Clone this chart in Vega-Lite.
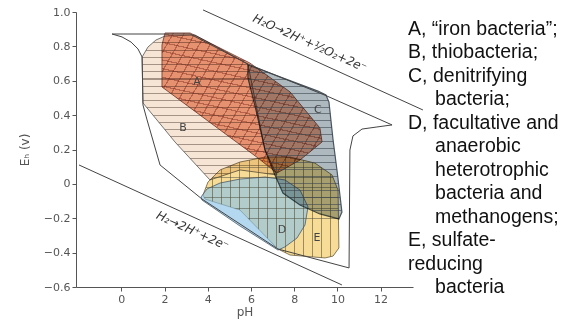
{
 "$schema": "https://vega.github.io/schema/vega-lite/v6.json",
 "width": 337, "height": 275,
 "autosize": {"type": "none"},
 "padding": {"left": 76, "top": 12, "right": 161, "bottom": 35},
 "background": "white",
 "config": {"view": {"stroke": null}, "font": "DejaVu Sans"},
 "datasets": {
  "outer": [
   {"i":0,"pH":-0.43,"Eh":0.872},{"i":1,"pH":3.18,"Eh":0.872},{"i":2,"pH":5.86,"Eh":0.697},{"i":3,"pH":9.52,"Eh":0.511},
   {"i":4,"pH":12.53,"Eh":0.343},{"i":5,"pH":11.83,"Eh":0.331},{"i":6,"pH":11.14,"Eh":0.319},{"i":7,"pH":10.72,"Eh":0.279},
   {"i":8,"pH":10.58,"Eh":0.197},{"i":9,"pH":10.54,"Eh":-0.489},{"i":10,"pH":7.25,"Eh":-0.379},{"i":11,"pH":3.73,"Eh":-0.088},
   {"i":12,"pH":1.79,"Eh":0.110},{"i":13,"pH":1.19,"Eh":0.372},{"i":14,"pH":1.00,"Eh":0.459},{"i":15,"pH":0.96,"Eh":0.738},
   {"i":16,"pH":0.77,"Eh":0.785},{"i":17,"pH":0.45,"Eh":0.825},{"i":18,"pH":0.03,"Eh":0.855}
  ],
  "B": [
   {"i":0,"pH":0.96,"Eh":0.738},{"i":1,"pH":1.23,"Eh":0.796},{"i":2,"pH":1.60,"Eh":0.837},{"i":3,"pH":2.02,"Eh":0.860},
   {"i":4,"pH":3.41,"Eh":0.866},{"i":5,"pH":5.86,"Eh":0.697},{"i":6,"pH":6.65,"Eh":0.197},{"i":7,"pH":7.20,"Eh":0.052},
   {"i":8,"pH":5.49,"Eh":0.081},{"i":9,"pH":4.10,"Eh":0.023},{"i":10,"pH":2.48,"Eh":0.244},{"i":11,"pH":1.00,"Eh":0.471}
  ],
  "A": [
   {"i":0,"pH":2.02,"Eh":0.878},{"i":1,"pH":3.18,"Eh":0.878},{"i":2,"pH":5.95,"Eh":0.703},{"i":3,"pH":7.81,"Eh":0.535},
   {"i":4,"pH":9.19,"Eh":0.325},{"i":5,"pH":9.29,"Eh":0.244},{"i":6,"pH":8.27,"Eh":0.139},{"i":7,"pH":7.20,"Eh":0.063},
   {"i":8,"pH":6.32,"Eh":0.151},{"i":9,"pH":1.88,"Eh":0.564},{"i":10,"pH":1.88,"Eh":0.808}
  ],
  "C": [
   {"i":0,"pH":5.86,"Eh":0.692},{"i":1,"pH":9.10,"Eh":0.540},{"i":2,"pH":9.47,"Eh":0.517},{"i":3,"pH":9.61,"Eh":0.476},
   {"i":4,"pH":9.80,"Eh":0.255},{"i":5,"pH":9.98,"Eh":0.081},{"i":6,"pH":10.21,"Eh":-0.164},{"i":7,"pH":10.07,"Eh":-0.204},
   {"i":8,"pH":9.19,"Eh":-0.175},{"i":9,"pH":8.27,"Eh":-0.123},{"i":10,"pH":7.48,"Eh":-0.053},{"i":11,"pH":7.11,"Eh":0.052},
   {"i":12,"pH":6.65,"Eh":0.197},{"i":13,"pH":6.23,"Eh":0.430},{"i":14,"pH":5.86,"Eh":0.616}
  ],
  "E": [
   {"i":0,"pH":3.78,"Eh":-0.065},{"i":1,"pH":4.01,"Eh":0.011},{"i":2,"pH":4.57,"Eh":0.081},{"i":3,"pH":5.49,"Eh":0.127},
   {"i":4,"pH":6.65,"Eh":0.156},{"i":5,"pH":7.81,"Eh":0.156},{"i":6,"pH":8.96,"Eh":0.121},{"i":7,"pH":9.75,"Eh":0.052},
   {"i":8,"pH":10.03,"Eh":-0.036},{"i":9,"pH":10.07,"Eh":-0.373},{"i":10,"pH":9.80,"Eh":-0.420},{"i":11,"pH":9.43,"Eh":-0.431},
   {"i":12,"pH":7.81,"Eh":-0.414},{"i":13,"pH":7.25,"Eh":-0.379},{"i":14,"pH":5.49,"Eh":-0.152},{"i":15,"pH":3.87,"Eh":-0.088}
  ],
  "D": [
   {"i":0,"pH":3.69,"Eh":-0.076},{"i":1,"pH":3.96,"Eh":-0.030},{"i":2,"pH":4.57,"Eh":0.005},{"i":3,"pH":5.49,"Eh":0.028},
   {"i":4,"pH":6.65,"Eh":0.040},{"i":5,"pH":7.57,"Eh":0.023},{"i":6,"pH":8.27,"Eh":-0.036},{"i":7,"pH":8.64,"Eh":-0.134},
   {"i":8,"pH":8.50,"Eh":-0.239},{"i":9,"pH":8.13,"Eh":-0.315},{"i":10,"pH":7.57,"Eh":-0.367},{"i":11,"pH":7.25,"Eh":-0.385},
   {"i":12,"pH":5.49,"Eh":-0.245},{"i":13,"pH":3.73,"Eh":-0.094}
  ],
  "water": [{"i":0,"pH":3.78,"Eh":1.012},{"i":1,"pH":13.96,"Eh":0.430}],
  "hydrogen": [{"i":0,"pH":-1.96,"Eh":0.110},{"i":1,"pH":10.21,"Eh":-0.588}],
  "letters": [
   {"pH":3.50,"Eh":0.593,"t":"A"},{"pH":2.85,"Eh":0.325,"t":"B"},{"pH":9.10,"Eh":0.430,"t":"C"},
   {"pH":7.44,"Eh":-0.268,"t":"D"},{"pH":9.06,"Eh":-0.315,"t":"E"}
  ],
  "lineLabels": [
   {"pH":8.73,"Eh":0.820,"t":"H₂O→2H⁺+½O₂+2e⁻"},
   {"pH":3.30,"Eh":-0.272,"t":"H₂→2H⁺+2e⁻"}
  ],
  "notesMain": [
   {"pH":13.27,"Eh":0.8662,"t":"A, “iron bacteria”;"},
   {"pH":13.27,"Eh":0.7297,"t":"B, thiobacteria;"},
   {"pH":13.27,"Eh":0.5933,"t":"C, denitrifying"},
   {"pH":13.27,"Eh":0.3204,"t":"D, facultative and"},
   {"pH":13.27,"Eh":-0.3617,"t":"E, sulfate-"},
   {"pH":13.27,"Eh":-0.4982,"t":"reducing"}
  ],
  "notesIndent": [
   {"pH":14.52,"Eh":0.4569,"t":"bacteria;"},
   {"pH":14.52,"Eh":0.1840,"t":"anaerobic"},
   {"pH":14.52,"Eh":0.0476,"t":"heterotrophic"},
   {"pH":14.52,"Eh":-0.0889,"t":"bacteria and"},
   {"pH":14.52,"Eh":-0.2253,"t":"methanogens;"},
   {"pH":14.52,"Eh":-0.6347,"t":"bacteria"}
  ]
 },
 "encoding": {
  "x": {"field": "pH", "type": "quantitative",
   "scale": {"domain": [-2.1, 13.5], "nice": false, "zero": false},
   "axis": {"values": [0,2,4,6,8,10,12], "title": "pH", "grid": false, "tickSize": 4, "labelPadding": 2,
    "labelFont": "DejaVu Sans", "labelFontSize": 11, "labelColor": "#555", "domainColor": "#555", "tickColor": "#555",
    "titleFont": "DejaVu Sans", "titleFontSize": 12, "titleFontWeight": "normal", "titleColor": "#555", "titlePadding": 2}},
  "y": {"field": "Eh", "type": "quantitative",
   "scale": {"domain": [-0.6, 1.0], "nice": false, "zero": false},
   "axis": {"values": [-0.6,-0.4,-0.2,0,0.2,0.4,0.6,0.8,1.0], "title": "Eₕ (v)", "grid": false, "tickSize": 4, "labelPadding": 2,
    "labelExpr": "datum.value == 0 ? '0' : format(datum.value, '.1f')",
    "labelFont": "DejaVu Sans", "labelFontSize": 11, "labelColor": "#555", "domainColor": "#555", "tickColor": "#555",
    "titleFont": "DejaVu Sans", "titleFontSize": 12, "titleFontWeight": "normal", "titleColor": "#555", "titlePadding": 12}}
 },
 "layer": [
  {"data": {"name": "B"}, "mark": {"type": "line", "interpolate": "linear-closed", "fill": "#f6e4d4", "blend": "multiply", "stroke": "#555", "strokeWidth": 0.8}, "encoding": {"order": {"field": "i"}}},
  {"data": {"name": "B"}, "mark": {"type": "line", "interpolate": "linear-closed", "strokeOpacity": 0, "fill": {"gradient": "linear", "x1": 0, "y1": 0, "x2": 0, "y2": 1, "stops": [
   {"offset":0,"color":"transparent"},
   {"offset":0.05,"color":"transparent"},{"offset":0.05,"color":"#6e5e5299"},{"offset":0.057,"color":"#6e5e5299"},{"offset":0.057,"color":"transparent"},
   {"offset":0.1,"color":"transparent"},{"offset":0.1,"color":"#6e5e5299"},{"offset":0.107,"color":"#6e5e5299"},{"offset":0.107,"color":"transparent"},
   {"offset":0.15,"color":"transparent"},{"offset":0.15,"color":"#6e5e5299"},{"offset":0.157,"color":"#6e5e5299"},{"offset":0.157,"color":"transparent"},
   {"offset":0.2,"color":"transparent"},{"offset":0.2,"color":"#6e5e5299"},{"offset":0.207,"color":"#6e5e5299"},{"offset":0.207,"color":"transparent"},
   {"offset":0.25,"color":"transparent"},{"offset":0.25,"color":"#6e5e5299"},{"offset":0.257,"color":"#6e5e5299"},{"offset":0.257,"color":"transparent"},
   {"offset":0.3,"color":"transparent"},{"offset":0.3,"color":"#6e5e5299"},{"offset":0.307,"color":"#6e5e5299"},{"offset":0.307,"color":"transparent"},
   {"offset":0.35,"color":"transparent"},{"offset":0.35,"color":"#6e5e5299"},{"offset":0.357,"color":"#6e5e5299"},{"offset":0.357,"color":"transparent"},
   {"offset":0.4,"color":"transparent"},{"offset":0.4,"color":"#6e5e5299"},{"offset":0.407,"color":"#6e5e5299"},{"offset":0.407,"color":"transparent"},
   {"offset":0.45,"color":"transparent"},{"offset":0.45,"color":"#6e5e5299"},{"offset":0.457,"color":"#6e5e5299"},{"offset":0.457,"color":"transparent"},
   {"offset":0.5,"color":"transparent"},{"offset":0.5,"color":"#6e5e5299"},{"offset":0.507,"color":"#6e5e5299"},{"offset":0.507,"color":"transparent"},
   {"offset":0.55,"color":"transparent"},{"offset":0.55,"color":"#6e5e5299"},{"offset":0.557,"color":"#6e5e5299"},{"offset":0.557,"color":"transparent"},
   {"offset":0.6,"color":"transparent"},{"offset":0.6,"color":"#6e5e5299"},{"offset":0.607,"color":"#6e5e5299"},{"offset":0.607,"color":"transparent"},
   {"offset":0.65,"color":"transparent"},{"offset":0.65,"color":"#6e5e5299"},{"offset":0.657,"color":"#6e5e5299"},{"offset":0.657,"color":"transparent"},
   {"offset":0.7,"color":"transparent"},{"offset":0.7,"color":"#6e5e5299"},{"offset":0.707,"color":"#6e5e5299"},{"offset":0.707,"color":"transparent"},
   {"offset":0.75,"color":"transparent"},{"offset":0.75,"color":"#6e5e5299"},{"offset":0.757,"color":"#6e5e5299"},{"offset":0.757,"color":"transparent"},
   {"offset":0.8,"color":"transparent"},{"offset":0.8,"color":"#6e5e5299"},{"offset":0.807,"color":"#6e5e5299"},{"offset":0.807,"color":"transparent"},
   {"offset":0.85,"color":"transparent"},{"offset":0.85,"color":"#6e5e5299"},{"offset":0.857,"color":"#6e5e5299"},{"offset":0.857,"color":"transparent"},
   {"offset":0.9,"color":"transparent"},{"offset":0.9,"color":"#6e5e5299"},{"offset":0.907,"color":"#6e5e5299"},{"offset":0.907,"color":"transparent"},
   {"offset":0.95,"color":"transparent"},{"offset":0.95,"color":"#6e5e5299"},{"offset":0.957,"color":"#6e5e5299"},{"offset":0.957,"color":"transparent"},
   {"offset":1,"color":"transparent"}]}}, "encoding": {"order": {"field": "i"}}},
  {"data": {"name": "A"}, "mark": {"type": "line", "interpolate": "linear-closed", "fill": "#efa286", "blend": "multiply", "stroke": "#6b3a2e", "strokeWidth": 0.8}, "encoding": {"order": {"field": "i"}}},
  {"data": {"name": "A"}, "mark": {"type": "line", "interpolate": "linear-closed", "strokeOpacity": 0, "fill": {"gradient": "linear", "x1": 0, "y1": 0, "x2": 1.2, "y2": 0.6, "stops": [
   {"offset":0,"color":"transparent"},
   {"offset":0.045,"color":"transparent"},{"offset":0.045,"color":"#7a281e70"},{"offset":0.051,"color":"#7a281e70"},{"offset":0.051,"color":"transparent"},
   {"offset":0.09,"color":"transparent"},{"offset":0.09,"color":"#7a281e70"},{"offset":0.096,"color":"#7a281e70"},{"offset":0.096,"color":"transparent"},
   {"offset":0.135,"color":"transparent"},{"offset":0.135,"color":"#7a281e70"},{"offset":0.141,"color":"#7a281e70"},{"offset":0.141,"color":"transparent"},
   {"offset":0.18,"color":"transparent"},{"offset":0.18,"color":"#7a281e70"},{"offset":0.186,"color":"#7a281e70"},{"offset":0.186,"color":"transparent"},
   {"offset":0.225,"color":"transparent"},{"offset":0.225,"color":"#7a281e70"},{"offset":0.231,"color":"#7a281e70"},{"offset":0.231,"color":"transparent"},
   {"offset":0.27,"color":"transparent"},{"offset":0.27,"color":"#7a281e70"},{"offset":0.276,"color":"#7a281e70"},{"offset":0.276,"color":"transparent"},
   {"offset":0.315,"color":"transparent"},{"offset":0.315,"color":"#7a281e70"},{"offset":0.321,"color":"#7a281e70"},{"offset":0.321,"color":"transparent"},
   {"offset":0.36,"color":"transparent"},{"offset":0.36,"color":"#7a281e70"},{"offset":0.366,"color":"#7a281e70"},{"offset":0.366,"color":"transparent"},
   {"offset":0.405,"color":"transparent"},{"offset":0.405,"color":"#7a281e70"},{"offset":0.411,"color":"#7a281e70"},{"offset":0.411,"color":"transparent"},
   {"offset":0.45,"color":"transparent"},{"offset":0.45,"color":"#7a281e70"},{"offset":0.456,"color":"#7a281e70"},{"offset":0.456,"color":"transparent"},
   {"offset":0.495,"color":"transparent"},{"offset":0.495,"color":"#7a281e70"},{"offset":0.501,"color":"#7a281e70"},{"offset":0.501,"color":"transparent"},
   {"offset":0.54,"color":"transparent"},{"offset":0.54,"color":"#7a281e70"},{"offset":0.546,"color":"#7a281e70"},{"offset":0.546,"color":"transparent"},
   {"offset":0.585,"color":"transparent"},{"offset":0.585,"color":"#7a281e70"},{"offset":0.591,"color":"#7a281e70"},{"offset":0.591,"color":"transparent"},
   {"offset":0.63,"color":"transparent"},{"offset":0.63,"color":"#7a281e70"},{"offset":0.636,"color":"#7a281e70"},{"offset":0.636,"color":"transparent"},
   {"offset":0.675,"color":"transparent"},{"offset":0.675,"color":"#7a281e70"},{"offset":0.681,"color":"#7a281e70"},{"offset":0.681,"color":"transparent"},
   {"offset":0.72,"color":"transparent"},{"offset":0.72,"color":"#7a281e70"},{"offset":0.726,"color":"#7a281e70"},{"offset":0.726,"color":"transparent"},
   {"offset":0.765,"color":"transparent"},{"offset":0.765,"color":"#7a281e70"},{"offset":0.771,"color":"#7a281e70"},{"offset":0.771,"color":"transparent"},
   {"offset":0.81,"color":"transparent"},{"offset":0.81,"color":"#7a281e70"},{"offset":0.816,"color":"#7a281e70"},{"offset":0.816,"color":"transparent"},
   {"offset":0.855,"color":"transparent"},{"offset":0.855,"color":"#7a281e70"},{"offset":0.861,"color":"#7a281e70"},{"offset":0.861,"color":"transparent"},
   {"offset":0.9,"color":"transparent"},{"offset":0.9,"color":"#7a281e70"},{"offset":0.906,"color":"#7a281e70"},{"offset":0.906,"color":"transparent"},
   {"offset":0.945,"color":"transparent"},{"offset":0.945,"color":"#7a281e70"},{"offset":0.951,"color":"#7a281e70"},{"offset":0.951,"color":"transparent"},
   {"offset":1,"color":"transparent"}]}}, "encoding": {"order": {"field": "i"}}},
  {"data": {"name": "A"}, "mark": {"type": "line", "interpolate": "linear-closed", "strokeOpacity": 0, "fill": {"gradient": "linear", "x1": 1, "y1": 0, "x2": 0.706, "y2": 1.176, "stops": [
   {"offset":0,"color":"transparent"},
   {"offset":0.05,"color":"transparent"},{"offset":0.05,"color":"#7a281e70"},{"offset":0.057,"color":"#7a281e70"},{"offset":0.057,"color":"transparent"},
   {"offset":0.1,"color":"transparent"},{"offset":0.1,"color":"#7a281e70"},{"offset":0.107,"color":"#7a281e70"},{"offset":0.107,"color":"transparent"},
   {"offset":0.15,"color":"transparent"},{"offset":0.15,"color":"#7a281e70"},{"offset":0.157,"color":"#7a281e70"},{"offset":0.157,"color":"transparent"},
   {"offset":0.2,"color":"transparent"},{"offset":0.2,"color":"#7a281e70"},{"offset":0.207,"color":"#7a281e70"},{"offset":0.207,"color":"transparent"},
   {"offset":0.25,"color":"transparent"},{"offset":0.25,"color":"#7a281e70"},{"offset":0.257,"color":"#7a281e70"},{"offset":0.257,"color":"transparent"},
   {"offset":0.3,"color":"transparent"},{"offset":0.3,"color":"#7a281e70"},{"offset":0.307,"color":"#7a281e70"},{"offset":0.307,"color":"transparent"},
   {"offset":0.35,"color":"transparent"},{"offset":0.35,"color":"#7a281e70"},{"offset":0.357,"color":"#7a281e70"},{"offset":0.357,"color":"transparent"},
   {"offset":0.4,"color":"transparent"},{"offset":0.4,"color":"#7a281e70"},{"offset":0.407,"color":"#7a281e70"},{"offset":0.407,"color":"transparent"},
   {"offset":0.45,"color":"transparent"},{"offset":0.45,"color":"#7a281e70"},{"offset":0.457,"color":"#7a281e70"},{"offset":0.457,"color":"transparent"},
   {"offset":0.5,"color":"transparent"},{"offset":0.5,"color":"#7a281e70"},{"offset":0.507,"color":"#7a281e70"},{"offset":0.507,"color":"transparent"},
   {"offset":0.55,"color":"transparent"},{"offset":0.55,"color":"#7a281e70"},{"offset":0.557,"color":"#7a281e70"},{"offset":0.557,"color":"transparent"},
   {"offset":0.6,"color":"transparent"},{"offset":0.6,"color":"#7a281e70"},{"offset":0.607,"color":"#7a281e70"},{"offset":0.607,"color":"transparent"},
   {"offset":0.65,"color":"transparent"},{"offset":0.65,"color":"#7a281e70"},{"offset":0.657,"color":"#7a281e70"},{"offset":0.657,"color":"transparent"},
   {"offset":0.7,"color":"transparent"},{"offset":0.7,"color":"#7a281e70"},{"offset":0.707,"color":"#7a281e70"},{"offset":0.707,"color":"transparent"},
   {"offset":0.75,"color":"transparent"},{"offset":0.75,"color":"#7a281e70"},{"offset":0.757,"color":"#7a281e70"},{"offset":0.757,"color":"transparent"},
   {"offset":0.8,"color":"transparent"},{"offset":0.8,"color":"#7a281e70"},{"offset":0.807,"color":"#7a281e70"},{"offset":0.807,"color":"transparent"},
   {"offset":0.85,"color":"transparent"},{"offset":0.85,"color":"#7a281e70"},{"offset":0.857,"color":"#7a281e70"},{"offset":0.857,"color":"transparent"},
   {"offset":0.9,"color":"transparent"},{"offset":0.9,"color":"#7a281e70"},{"offset":0.907,"color":"#7a281e70"},{"offset":0.907,"color":"transparent"},
   {"offset":0.95,"color":"transparent"},{"offset":0.95,"color":"#7a281e70"},{"offset":0.957,"color":"#7a281e70"},{"offset":0.957,"color":"transparent"},
   {"offset":1,"color":"transparent"}]}}, "encoding": {"order": {"field": "i"}}},
  {"data": {"name": "E"}, "mark": {"type": "line", "interpolate": "linear-closed", "fill": "#f6dc96", "blend": "multiply", "stroke": "#6a5a3a", "strokeWidth": 0.8}, "encoding": {"order": {"field": "i"}}},
  {"data": {"name": "D"}, "mark": {"type": "line", "interpolate": "linear-closed", "fill": "#8cc3e6", "fillOpacity": 0.65, "stroke": "#4a5a6a", "strokeWidth": 0.8}, "encoding": {"order": {"field": "i"}}},
  {"data": {"name": "E"}, "mark": {"type": "line", "interpolate": "linear-closed", "strokeOpacity": 0, "fill": {"gradient": "linear", "x1": 0, "y1": 0, "x2": 1, "y2": 0, "stops": [
   {"offset":0,"color":"transparent"},
   {"offset":0.067,"color":"transparent"},{"offset":0.067,"color":"#5a4a2a90"},{"offset":0.0745,"color":"#5a4a2a90"},{"offset":0.0745,"color":"transparent"},
   {"offset":0.134,"color":"transparent"},{"offset":0.134,"color":"#5a4a2a90"},{"offset":0.1415,"color":"#5a4a2a90"},{"offset":0.1415,"color":"transparent"},
   {"offset":0.201,"color":"transparent"},{"offset":0.201,"color":"#5a4a2a90"},{"offset":0.2085,"color":"#5a4a2a90"},{"offset":0.2085,"color":"transparent"},
   {"offset":0.268,"color":"transparent"},{"offset":0.268,"color":"#5a4a2a90"},{"offset":0.2755,"color":"#5a4a2a90"},{"offset":0.2755,"color":"transparent"},
   {"offset":0.335,"color":"transparent"},{"offset":0.335,"color":"#5a4a2a90"},{"offset":0.3425,"color":"#5a4a2a90"},{"offset":0.3425,"color":"transparent"},
   {"offset":0.402,"color":"transparent"},{"offset":0.402,"color":"#5a4a2a90"},{"offset":0.4095,"color":"#5a4a2a90"},{"offset":0.4095,"color":"transparent"},
   {"offset":0.469,"color":"transparent"},{"offset":0.469,"color":"#5a4a2a90"},{"offset":0.4765,"color":"#5a4a2a90"},{"offset":0.4765,"color":"transparent"},
   {"offset":0.536,"color":"transparent"},{"offset":0.536,"color":"#5a4a2a90"},{"offset":0.5435,"color":"#5a4a2a90"},{"offset":0.5435,"color":"transparent"},
   {"offset":0.603,"color":"transparent"},{"offset":0.603,"color":"#5a4a2a90"},{"offset":0.6105,"color":"#5a4a2a90"},{"offset":0.6105,"color":"transparent"},
   {"offset":0.67,"color":"transparent"},{"offset":0.67,"color":"#5a4a2a90"},{"offset":0.6775,"color":"#5a4a2a90"},{"offset":0.6775,"color":"transparent"},
   {"offset":0.737,"color":"transparent"},{"offset":0.737,"color":"#5a4a2a90"},{"offset":0.7445,"color":"#5a4a2a90"},{"offset":0.7445,"color":"transparent"},
   {"offset":0.804,"color":"transparent"},{"offset":0.804,"color":"#5a4a2a90"},{"offset":0.8115,"color":"#5a4a2a90"},{"offset":0.8115,"color":"transparent"},
   {"offset":0.871,"color":"transparent"},{"offset":0.871,"color":"#5a4a2a90"},{"offset":0.8785,"color":"#5a4a2a90"},{"offset":0.8785,"color":"transparent"},
   {"offset":0.938,"color":"transparent"},{"offset":0.938,"color":"#5a4a2a90"},{"offset":0.9455,"color":"#5a4a2a90"},{"offset":0.9455,"color":"transparent"},
   {"offset":1,"color":"transparent"}]}}, "encoding": {"order": {"field": "i"}}},
  {"data": {"name": "E"}, "mark": {"type": "line", "interpolate": "linear-closed", "strokeOpacity": 0, "fill": {"gradient": "linear", "x1": 0, "y1": 0, "x2": 0, "y2": 1, "stops": [
   {"offset":0,"color":"transparent"},
   {"offset":0.1,"color":"transparent"},{"offset":0.1,"color":"#4a4a3a80"},{"offset":0.11,"color":"#4a4a3a80"},{"offset":0.11,"color":"transparent"},
   {"offset":0.2,"color":"transparent"},{"offset":0.2,"color":"#4a4a3a80"},{"offset":0.21,"color":"#4a4a3a80"},{"offset":0.21,"color":"transparent"},
   {"offset":0.3,"color":"transparent"},{"offset":0.3,"color":"#4a4a3a80"},{"offset":0.31,"color":"#4a4a3a80"},{"offset":0.31,"color":"transparent"},
   {"offset":0.4,"color":"transparent"},{"offset":0.4,"color":"#4a4a3a80"},{"offset":0.41,"color":"#4a4a3a80"},{"offset":0.41,"color":"transparent"},
   {"offset":0.5,"color":"transparent"},{"offset":0.5,"color":"#4a4a3a80"},{"offset":0.51,"color":"#4a4a3a80"},{"offset":0.51,"color":"transparent"},
   {"offset":0.6,"color":"transparent"},{"offset":0.6,"color":"#4a4a3a80"},{"offset":0.61,"color":"#4a4a3a80"},{"offset":0.61,"color":"transparent"},
   {"offset":1,"color":"transparent"}]}}, "encoding": {"order": {"field": "i"}}},
  {"data": {"name": "C"}, "mark": {"type": "line", "interpolate": "linear-closed", "fill": "#adb9bf", "blend": "multiply", "stroke": "#4a5560", "strokeWidth": 1.2}, "encoding": {"order": {"field": "i"}}},
  {"data": {"name": "C"}, "mark": {"type": "line", "interpolate": "linear-closed", "strokeOpacity": 0, "fill": {"gradient": "linear", "x1": 0, "y1": 0, "x2": 0, "y2": 1, "stops": [
   {"offset":0,"color":"transparent"},
   {"offset":0.045,"color":"transparent"},{"offset":0.045,"color":"#3c465099"},{"offset":0.0515,"color":"#3c465099"},{"offset":0.0515,"color":"transparent"},
   {"offset":0.09,"color":"transparent"},{"offset":0.09,"color":"#3c465099"},{"offset":0.0965,"color":"#3c465099"},{"offset":0.0965,"color":"transparent"},
   {"offset":0.135,"color":"transparent"},{"offset":0.135,"color":"#3c465099"},{"offset":0.1415,"color":"#3c465099"},{"offset":0.1415,"color":"transparent"},
   {"offset":0.18,"color":"transparent"},{"offset":0.18,"color":"#3c465099"},{"offset":0.1865,"color":"#3c465099"},{"offset":0.1865,"color":"transparent"},
   {"offset":0.225,"color":"transparent"},{"offset":0.225,"color":"#3c465099"},{"offset":0.2315,"color":"#3c465099"},{"offset":0.2315,"color":"transparent"},
   {"offset":0.27,"color":"transparent"},{"offset":0.27,"color":"#3c465099"},{"offset":0.2765,"color":"#3c465099"},{"offset":0.2765,"color":"transparent"},
   {"offset":0.315,"color":"transparent"},{"offset":0.315,"color":"#3c465099"},{"offset":0.3215,"color":"#3c465099"},{"offset":0.3215,"color":"transparent"},
   {"offset":0.36,"color":"transparent"},{"offset":0.36,"color":"#3c465099"},{"offset":0.3665,"color":"#3c465099"},{"offset":0.3665,"color":"transparent"},
   {"offset":0.405,"color":"transparent"},{"offset":0.405,"color":"#3c465099"},{"offset":0.4115,"color":"#3c465099"},{"offset":0.4115,"color":"transparent"},
   {"offset":0.45,"color":"transparent"},{"offset":0.45,"color":"#3c465099"},{"offset":0.4565,"color":"#3c465099"},{"offset":0.4565,"color":"transparent"},
   {"offset":0.495,"color":"transparent"},{"offset":0.495,"color":"#3c465099"},{"offset":0.5015,"color":"#3c465099"},{"offset":0.5015,"color":"transparent"},
   {"offset":0.54,"color":"transparent"},{"offset":0.54,"color":"#3c465099"},{"offset":0.5465,"color":"#3c465099"},{"offset":0.5465,"color":"transparent"},
   {"offset":0.585,"color":"transparent"},{"offset":0.585,"color":"#3c465099"},{"offset":0.5915,"color":"#3c465099"},{"offset":0.5915,"color":"transparent"},
   {"offset":0.63,"color":"transparent"},{"offset":0.63,"color":"#3c465099"},{"offset":0.6365,"color":"#3c465099"},{"offset":0.6365,"color":"transparent"},
   {"offset":0.675,"color":"transparent"},{"offset":0.675,"color":"#3c465099"},{"offset":0.6815,"color":"#3c465099"},{"offset":0.6815,"color":"transparent"},
   {"offset":0.72,"color":"transparent"},{"offset":0.72,"color":"#3c465099"},{"offset":0.7265,"color":"#3c465099"},{"offset":0.7265,"color":"transparent"},
   {"offset":0.765,"color":"transparent"},{"offset":0.765,"color":"#3c465099"},{"offset":0.7715,"color":"#3c465099"},{"offset":0.7715,"color":"transparent"},
   {"offset":0.81,"color":"transparent"},{"offset":0.81,"color":"#3c465099"},{"offset":0.8165,"color":"#3c465099"},{"offset":0.8165,"color":"transparent"},
   {"offset":0.855,"color":"transparent"},{"offset":0.855,"color":"#3c465099"},{"offset":0.8615,"color":"#3c465099"},{"offset":0.8615,"color":"transparent"},
   {"offset":0.9,"color":"transparent"},{"offset":0.9,"color":"#3c465099"},{"offset":0.9065,"color":"#3c465099"},{"offset":0.9065,"color":"transparent"},
   {"offset":0.945,"color":"transparent"},{"offset":0.945,"color":"#3c465099"},{"offset":0.9515,"color":"#3c465099"},{"offset":0.9515,"color":"transparent"},
   {"offset":1,"color":"transparent"}]}}, "encoding": {"order": {"field": "i"}}},
  {"data": {"name": "outer"}, "mark": {"type": "line", "interpolate": "linear-closed", "stroke": "#444", "strokeWidth": 1}, "encoding": {"order": {"field": "i"}}},
  {"data": {"name": "water"}, "mark": {"type": "line", "stroke": "#444", "strokeWidth": 1}, "encoding": {"order": {"field": "i"}}},
  {"data": {"name": "hydrogen"}, "mark": {"type": "line", "stroke": "#444", "strokeWidth": 1}, "encoding": {"order": {"field": "i"}}},
  {"data": {"name": "letters"}, "mark": {"type": "text", "font": "DejaVu Sans", "fontSize": 11, "fill": "#444"}, "encoding": {"text": {"field": "t"}}},
  {"data": {"name": "lineLabels"}, "mark": {"type": "text", "font": "DejaVu Sans", "fontStyle": "italic", "fontSize": 12, "fill": "#333", "angle": 24.5}, "encoding": {"text": {"field": "t"}}},
  {"data": {"name": "notesMain"}, "mark": {"type": "text", "font": "Liberation Sans", "fontSize": 19.5, "fill": "#111", "align": "left", "baseline": "alphabetic"}, "encoding": {"text": {"field": "t"}}},
  {"data": {"name": "notesIndent"}, "mark": {"type": "text", "font": "Liberation Sans", "fontSize": 19.5, "fill": "#111", "align": "left", "baseline": "alphabetic"}, "encoding": {"text": {"field": "t"}}}
 ]
}
